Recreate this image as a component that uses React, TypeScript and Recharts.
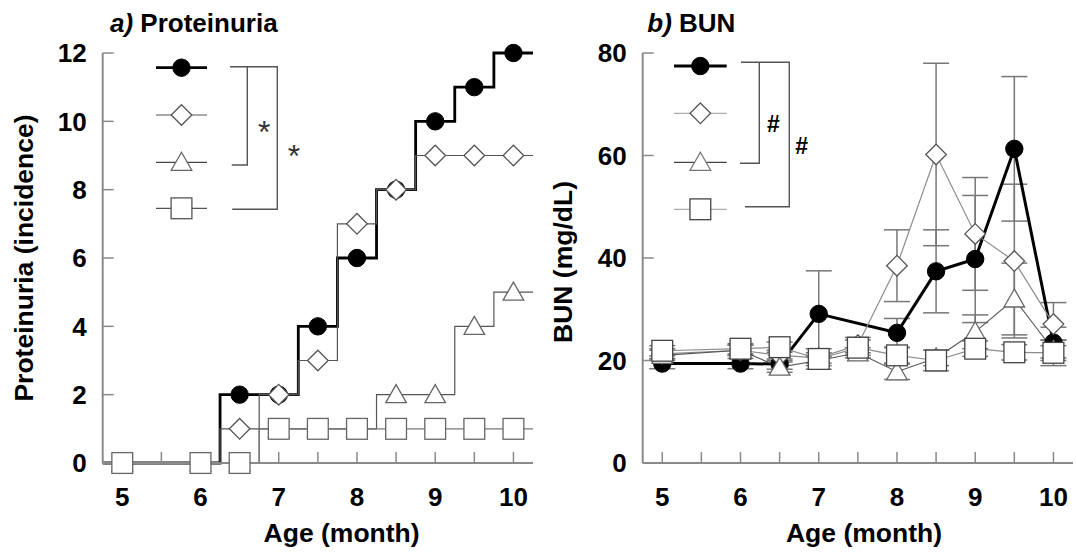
import { ErrorBar, Line, LineChart, XAxis, YAxis } from "recharts";

// time points (month of age)
const months = [5, 6, 6.5, 7, 7.5, 8, 8.5, 9, 9.5, 10];
const monthTicks = [5, 5.5, 6, 6.5, 7, 7.5, 8, 8.5, 9, 9.5, 10];

// a) proteinuria incidence (cumulative, step plot)
const protCircle = [0, 0, 2, 2, 4, 6, 8, 10, 11, 12];
const protDiamond = [0, 0, 1, 2, 3, 7, 8, 9, 9, 9];
const protTriangle = [0, 0, 0, 1, 1, 1, 2, 2, 4, 5];
const protSquare = [0, 0, 0, 1, 1, 1, 1, 1, 1, 1];
const protTicks = [0, 2, 4, 6, 8, 10, 12];

// b) BUN mean and SD (mg/dL)
const bunCircle = [19.4, 19.4, 19.3, 29.1, null, 25.4, 37.4, 39.8, 61.3, 23.5];
const bunCircleSd = [1, 1, 1, 8.4, null, 2.8, 8.1, 12.4, 14.1, 3];
const bunDiamond = [21.3, 22, 21, 20.5, 23, 38.5, 60.2, 44.7, 39.4, 27.1];
const bunDiamondSd = [1, 1, 1, 1, 1.5, 7, 17.8, 11, 15, 4.2];
const bunTriangle = [21, 22, 18.7, 20, 21.5, 17.8, 20.5, 25.6, 32, 22];
const bunTriangleSd = [1, 1, 1, 1, 1, 1.5, 1.5, 3.3, 7, 2];
const bunSquare = [21.9, 22.3, 22.6, 20.3, 22.5, 21, 20, 22.3, 21.6, 21.5];
const bunSquareSd = [1, 1, 1, 2, 1.5, 1.5, 2, 1.5, 1.5, 2.5];
const bunTicks = [0, 20, 40, 60, 80];

const X_MIN = 4.75;
const X_MAX = 10.25;
const FONT = "'Liberation Sans', Arial, sans-serif";
const AXIS = "#8a8a8a";

type Shape = "circle" | "diamond" | "triangle" | "square";

// step lines run half a step past the first and last point
function stepRows(values: number[]) {
  const rows = months.map((m, i) => ({ x: m, y: values[i], pad: false }));
  return [
    { x: X_MIN, y: values[0], pad: true },
    ...rows,
    { x: X_MAX, y: values[values.length - 1], pad: true },
  ];
}

function bunRows(values: (number | null)[], sd: (number | null)[]) {
  return months
    .map((m, i) => ({ x: m, y: values[i], sd: sd[i], pad: false }))
    .filter((r) => r.y != null);
}

function Marker({ shape, cx, cy, stroke }: { shape: Shape; cx: number; cy: number; stroke: string }) {
  if (shape === "circle") {
    return <circle cx={cx} cy={cy} r={8.7} fill="#000" stroke="#000" strokeWidth={1} />;
  }
  if (shape === "diamond") {
    const h = 10.3;
    return (
      <polygon
        points={`${cx},${cy - h} ${cx + h},${cy} ${cx},${cy + h} ${cx - h},${cy}`}
        fill="#fff"
        stroke={stroke}
        strokeWidth={1.3}
      />
    );
  }
  if (shape === "triangle") {
    return (
      <polygon
        points={`${cx},${cy - 10} ${cx + 10.3},${cy + 8} ${cx - 10.3},${cy + 8}`}
        fill="#fff"
        stroke={stroke}
        strokeWidth={1.3}
      />
    );
  }
  return (
    <rect x={cx - 10.4} y={cy - 10.4} width={20.8} height={20.8} fill="#fff" stroke={stroke} strokeWidth={1.3} />
  );
}

const dotFor = (shape: Shape, stroke: string) => (p: any) => {
  if (p.payload?.pad || p.cx == null || p.cy == null) {
    return <g key={`pad-${shape}-${p.index}`} />;
  }
  return <Marker key={`${shape}-${p.index}`} shape={shape} cx={p.cx} cy={p.cy} stroke={stroke} />;
};

const tickStyle = { fill: "#000", fontSize: 26, fontWeight: 700, fontFamily: FONT };
const monthLabel = (v: number) => (Number.isInteger(v) ? String(v) : "");

// plot area: x 102.7..533, y 53..463 inside each 540px-wide chart
const Y_AXIS_W = 40;
const X_AXIS_H = 40;
const CHART_MARGIN = { top: 53, right: 7, bottom: 91 - X_AXIS_H, left: 102.7 - Y_AXIS_W };

function ProteinuriaChart() {
  return (
    <LineChart width={540} height={554} margin={CHART_MARGIN}>
      <XAxis
        type="number"
        dataKey="x"
        domain={[X_MIN, X_MAX]}
        ticks={monthTicks}
        interval={0}
        tickFormatter={monthLabel}
        height={X_AXIS_H}
        tickSize={-11}
        tickMargin={36}
        tick={tickStyle}
        axisLine={{ stroke: AXIS, strokeWidth: 2 }}
        tickLine={{ stroke: AXIS, strokeWidth: 1.5 }}
        allowDuplicatedCategory={false}
      />
      <YAxis
        type="number"
        domain={[0, 12]}
        ticks={protTicks}
        interval={0}
        width={Y_AXIS_W}
        tickSize={-11}
        tickMargin={27}
        tick={tickStyle}
        axisLine={{ stroke: AXIS, strokeWidth: 2 }}
        tickLine={{ stroke: AXIS, strokeWidth: 1.5 }}
      />
      <Line
        data={stepRows(protCircle)}
        dataKey="y"
        type="step"
        stroke="#000"
        strokeWidth={2.8}
        dot={dotFor("circle", "#000")}
        isAnimationActive={false}
      />
      <Line
        data={stepRows(protDiamond)}
        dataKey="y"
        type="step"
        stroke="#555"
        strokeWidth={1.2}
        dot={dotFor("diamond", "#555")}
        isAnimationActive={false}
      />
      <Line
        data={stepRows(protTriangle)}
        dataKey="y"
        type="step"
        stroke="#555"
        strokeWidth={1.2}
        dot={dotFor("triangle", "#666")}
        isAnimationActive={false}
      />
      <Line
        data={stepRows(protSquare)}
        dataKey="y"
        type="step"
        stroke="#777"
        strokeWidth={1.2}
        dot={dotFor("square", "#666")}
        isAnimationActive={false}
      />
    </LineChart>
  );
}

const bunSeries: { shape: Shape; rows: ReturnType<typeof bunRows>; stroke: string; width: number; marker: string }[] = [
  { shape: "circle", rows: bunRows(bunCircle, bunCircleSd), stroke: "#000", width: 3, marker: "#000" },
  { shape: "diamond", rows: bunRows(bunDiamond, bunDiamondSd), stroke: "#8c8c8c", width: 1.2, marker: "#555" },
  { shape: "triangle", rows: bunRows(bunTriangle, bunTriangleSd), stroke: "#555", width: 1.1, marker: "#666" },
  { shape: "square", rows: bunRows(bunSquare, bunSquareSd), stroke: "#8c8c8c", width: 1.2, marker: "#444" },
];

function BunChart() {
  return (
    <LineChart width={537} height={554} margin={{ ...CHART_MARGIN, right: 4 }}>
      <XAxis
        type="number"
        dataKey="x"
        domain={[X_MIN, X_MAX]}
        ticks={monthTicks}
        interval={0}
        tickFormatter={monthLabel}
        height={X_AXIS_H}
        tickSize={-11}
        tickMargin={36}
        tick={tickStyle}
        axisLine={{ stroke: AXIS, strokeWidth: 2 }}
        tickLine={{ stroke: AXIS, strokeWidth: 1.5 }}
        allowDuplicatedCategory={false}
      />
      <YAxis
        type="number"
        domain={[0, 80]}
        ticks={bunTicks}
        interval={0}
        width={Y_AXIS_W}
        tickSize={-11}
        tickMargin={27}
        tick={tickStyle}
        axisLine={{ stroke: AXIS, strokeWidth: 2 }}
        tickLine={{ stroke: AXIS, strokeWidth: 1.5 }}
      />
      {/* error bars go underneath every series */}
      {bunSeries.map((s) => (
        <Line
          key={`err-${s.shape}`}
          data={s.rows}
          dataKey="y"
          stroke="none"
          dot={false}
          activeDot={false}
          isAnimationActive={false}
        >
          <ErrorBar dataKey="sd" width={13} stroke="#777" strokeWidth={1.5} />
        </Line>
      ))}
      {bunSeries.map((s) => (
        <Line
          key={s.shape}
          data={s.rows}
          dataKey="y"
          type="linear"
          stroke={s.stroke}
          strokeWidth={s.width}
          dot={dotFor(s.shape, s.marker)}
          isAnimationActive={false}
        />
      ))}
    </LineChart>
  );
}

function LegendRow({ x1, x2, y, shape, line, lineWidth, marker }: any) {
  return (
    <g>
      <line x1={x1} x2={x2} y1={y} y2={y} stroke={line} strokeWidth={lineWidth} />
      <Marker shape={shape} cx={(x1 + x2) / 2} cy={y} stroke={marker} />
    </g>
  );
}

function Overlay() {
  const txt = { fontFamily: FONT, fontWeight: 700, fill: "#000" } as const;
  const br = { stroke: "#555", strokeWidth: 1.4, fill: "none" } as const;
  return (
    <svg width={1077} height={554} style={{ position: "absolute", left: 0, top: 0, pointerEvents: "none" }}>
      {/* titles */}
      <text x={110} y={31.7} fontSize={26} {...txt}>
        <tspan fontStyle="italic">a)</tspan> Proteinuria
      </text>
      <text x={647.3} y={31.7} fontSize={26} {...txt}>
        <tspan fontStyle="italic">b)</tspan> BUN
      </text>

      {/* axis titles */}
      <text x={341.6} y={541.7} fontSize={26.5} textAnchor="middle" {...txt}>
        Age (month)
      </text>
      <text x={864} y={541.7} fontSize={26.5} textAnchor="middle" {...txt}>
        Age (month)
      </text>
      <text
        x={0}
        y={0}
        fontSize={26.5}
        textAnchor="middle"
        dominantBaseline="central"
        transform="translate(24 258) rotate(-90)"
        {...txt}
      >
        Proteinuria (incidence)
      </text>
      <text
        x={0}
        y={0}
        fontSize={26.5}
        textAnchor="middle"
        dominantBaseline="central"
        transform="translate(563 262) rotate(-90)"
        {...txt}
      >
        BUN (mg/dL)
      </text>

      {/* legend a */}
      <LegendRow x1={156} x2={207} y={67.7} shape="circle" line="#000" lineWidth={2.8} marker="#000" />
      <LegendRow x1={156} x2={207} y={115} shape="diamond" line="#555" lineWidth={1.2} marker="#555" />
      <LegendRow x1={156} x2={207} y={162.3} shape="triangle" line="#444" lineWidth={1.2} marker="#666" />
      <LegendRow x1={156} x2={207} y={208.3} shape="square" line="#555" lineWidth={1.2} marker="#555" />
      <polyline points="230,66.7 277.3,66.7 277.3,209.3 232.3,209.3" {...br} />
      <polyline points="247.3,66.7 247.3,165 231.7,165" {...br} />
      <text x={264.3} y={143.3} fontSize={32} textAnchor="middle" fontFamily={FONT} fill="#333">
        *
      </text>
      <text x={294} y={166.6} fontSize={32} textAnchor="middle" fontFamily={FONT} fill="#333">
        *
      </text>

      {/* legend b */}
      <LegendRow x1={674} x2={726.7} y={66} shape="circle" line="#000" lineWidth={3} marker="#000" />
      <LegendRow x1={674} x2={726.7} y={113.3} shape="diamond" line="#aaa" lineWidth={1.2} marker="#555" />
      <LegendRow x1={674} x2={726.7} y={162.3} shape="triangle" line="#444" lineWidth={1.2} marker="#777" />
      <LegendRow x1={674} x2={726.7} y={209.3} shape="square" line="#aaa" lineWidth={1.2} marker="#444" />
      <polyline points="741,62.3 789.3,62.3 789.3,206.7 745,206.7" {...br} />
      <polyline points="759.3,62.3 759.3,163.3 740,163.3" {...br} />
      <text x={773.3} y={131.5} fontSize={23} textAnchor="middle" {...txt}>
        #
      </text>
      <text x={801.7} y={154} fontSize={23} textAnchor="middle" {...txt}>
        #
      </text>
    </svg>
  );
}

export default function App() {
  return (
    <div style={{ position: "absolute", left: 0, top: 0, width: 1077, height: 554, background: "#fff" }}>
      <div style={{ position: "absolute", left: 0, top: 0 }}>
        <ProteinuriaChart />
      </div>
      <div style={{ position: "absolute", left: 540, top: 0 }}>
        <BunChart />
      </div>
      <Overlay />
    </div>
  );
}
